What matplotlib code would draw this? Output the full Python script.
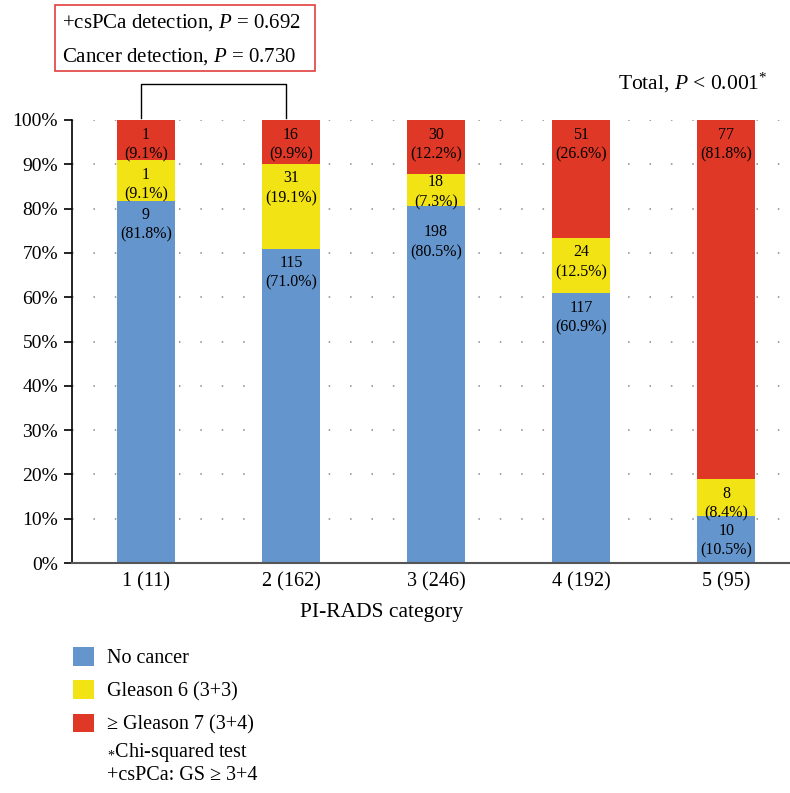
import matplotlib
matplotlib.use("Agg")
import matplotlib.pyplot as plt
from matplotlib.patches import Patch, Rectangle
import numpy as np

plt.rcParams['font.family'] = ['Liberation Serif', 'DejaVu Serif']
plt.rcParams['mathtext.fontset'] = 'custom'
plt.rcParams['mathtext.rm'] = 'Liberation Serif'
plt.rcParams['mathtext.it'] = 'Liberation Serif:italic'

categories = ["1 (11)", "2 (162)", "3 (246)", "4 (192)", "5 (95)"]
no_cancer = [9, 115, 198, 117, 10]
gleason6 = [1, 31, 18, 24, 8]
gleason7 = [1, 16, 30, 51, 77]
pct_no_cancer = ["81.8%", "71.0%", "80.5%", "60.9%", "10.5%"]
pct_gleason6 = ["9.1%", "19.1%", "7.3%", "12.5%", "8.4%"]
pct_gleason7 = ["9.1%", "9.9%", "12.2%", "26.6%", "81.8%"]

series = [
    ("No cancer", no_cancer, pct_no_cancer, "#6495cd"),
    ("Gleason 6 (3+3)", gleason6, pct_gleason6, "#f2e314"),
    ("\u2265 Gleason 7 (3+4)", gleason7, pct_gleason7, "#e03826"),
]

# label nudges (points) where the thin yellow segment of bar 3 crowds the text
nudge = {(0, 2): -13, (1, 2): -0.3}

totals = np.array(no_cancer) + np.array(gleason6) + np.array(gleason7)
x = np.arange(len(categories))

fig = plt.figure(figsize=(7.9, 7.93), dpi=100)
ax = fig.add_axes([72 / 790, 1 - 563 / 793, 1 - 72 / 790, (563 - 120) / 793])

bottom = np.zeros(len(categories))
for k, (name, counts, pcts, color) in enumerate(series):
    h = np.array(counts) / totals * 100
    ax.bar(x, h, width=0.4, bottom=bottom, color=color, zorder=2)
    for i in range(len(categories)):
        top = bottom[i] + h[i]
        ax.annotate(f"{counts[i]}\n({pcts[i]})", (x[i], top),
                    xytext=(0, nudge.get((k, i), -4.8)),
                    textcoords="offset points", ha="center", va="top",
                    fontsize=11.5, linespacing=1.3, zorder=3)
    bottom += h

ax.set_xlim(-0.51, 4.44)
ax.set_ylim(0, 100)
ax.set_yticks(np.arange(0, 101, 10))
ax.set_yticklabels([f"{v}%" for v in range(0, 101, 10)], fontsize=14)
ax.set_xticks(x)
ax.set_xticklabels(categories, fontsize=14.5)
ax.tick_params(axis="x", length=0, pad=7)
ax.tick_params(axis="y", direction="out", length=6, width=1.2, pad=4)
ax.yaxis.grid(True, linestyle=(0, (1, 13)), color="#888888", linewidth=1.1, zorder=0)
ax.set_axisbelow(True)
for s in ["top", "right"]:
    ax.spines[s].set_visible(False)
ax.spines["left"].set_linewidth(1.2)
ax.spines["bottom"].set_color("#555555")
ax.spines["bottom"].set_linewidth(1.5)

# bracket between PI-RADS 1 and 2
bx = [x[0] - 0.035, x[0] - 0.035, x[1] - 0.035, x[1] - 0.035]
ax.plot(bx, [100.5, 108.2, 108.2, 100.5], color="black", lw=1, clip_on=False)

fig.text(381 / 790, 1 - 612 / 793, "PI-RADS category", ha="center", va="center", fontsize=15.5)

# p-value box
fig.patches.append(Rectangle((55 / 790, 1 - 71 / 793), 260 / 790, 66 / 793,
                             transform=fig.transFigure, fill=False,
                             edgecolor="#e04040", linewidth=1.2))
fig.text(62 / 790, 1 - 23 / 793, "+csPCa detection, $P$ = 0.692", va="center", fontsize=15)
fig.text(62 / 790, 1 - 57 / 793, "Cancer detection, $P$ = 0.730", va="center", fontsize=15)
fig.text(767 / 790, 1 - 83 / 793, "Total, $P$ < 0.001$^{*}$", ha="right", va="center", fontsize=15.5)

handles = [Patch(facecolor=c, edgecolor="none") for _, _, _, c in series]
fig.legend(handles, [s[0] for s in series], loc="upper left",
           bbox_to_anchor=(73 / 790, 1 - 647 / 793), frameon=False, fontsize=14.5,
           borderpad=0, borderaxespad=0,
           handlelength=1.05, handleheight=1.05, labelspacing=0.6, handletextpad=0.65)

fig.text(107 / 790, 1 - 752 / 793, "$_{*}$Chi-squared test", va="center", fontsize=14.5)
fig.text(107 / 790, 1 - 775 / 793, "+csPCa: GS \u2265 3+4", va="center", fontsize=14.5)

fig.savefig("out.png", dpi=100)
